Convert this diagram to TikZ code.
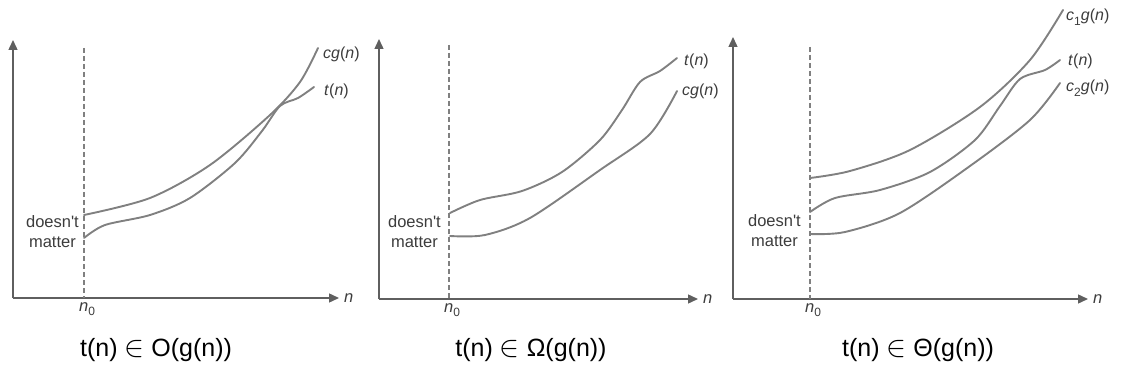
\documentclass[tikz,border=0pt]{standalone}
\usepackage{fontspec}
\usepackage{graphicx}
\setmainfont{Liberation Sans}
\newfontfamily\plainfont{Liberation Sans}
\usetikzlibrary{arrows.meta}
\definecolor{curvegray}{RGB}{128,128,128}
\definecolor{axisgray}{RGB}{95,95,95}
\definecolor{labelgray}{RGB}{60,60,60}
\newcommand{\lsub}[1]{\raisebox{-0.28em}{\fontsize{12}{12}\selectfont #1}}
\newcommand{\elem}{\raisebox{-0.02em}{\scalebox{1.2}{$\in$}}}
\begin{document}
\begin{tikzpicture}[x=1pt,y=-1pt,
  axis/.style={draw=axisgray,line width=1.4,-{Triangle[length=10,width=9]}},
  nline/.style={draw=curvegray,line width=1.3,dash pattern=on 5 off 3},
  fcurve/.style={draw=curvegray,line width=1.9,line cap=round},
  flabel/.style={anchor=west,inner sep=0pt,text=labelgray,font=\fontsize{16}{18}\selectfont},
  axlabel/.style={inner sep=0pt,text=labelgray,font=\fontsize{16.5}{18}\selectfont},
  dmlabel/.style={anchor=east,align=center,inner sep=0pt,text=labelgray,font=\plainfont\fontsize{16.5}{20}\selectfont},
  caption/.style={inner sep=0pt,text=black,font=\fontsize{25}{30}\selectfont}]
\useasboundingbox (0,0) rectangle (1121,374);
% ---------- panel 1 ----------
\coordinate (o1) at (13,298);
\coordinate (y1) at (13,40);
\coordinate (x1) at (339,298);
\coordinate (d1t) at (84,48);
\coordinate (d1b) at (84,298);
\draw[axis] (o1) -- (y1);
\draw[axis] (o1) -- (x1);
\draw[nline] (d1t) -- (d1b);
\node[axlabel,anchor=west] (n1) at (344,298) {\textit{n}};
\node[axlabel,anchor=north] (n01) at (87,302) {\textit{n}\lsub{0}};
\node[dmlabel] (dm1) at (79,232) {doesn't\\matter};
\draw[fcurve] plot[smooth] coordinates {(84,215) (150,198) (210,165) (270,115) (300,82) (318,48)};
\draw[fcurve] plot[smooth] coordinates {(84,238) (105,225) (150,215) (190,198) (235,163) (262,131) (280,106) (298,98) (314,87)};
\node[flabel] (cg1) at (323,54) {\textit{cg}(\textit{n})};
\node[flabel] (t1) at (324,91) {\textit{t}(\textit{n})};
\node[caption] (cap1) at (156,350) {t(n) \elem{} O(g(n))};
% ---------- panel 2 ----------
\coordinate (o2) at (379,299);
\coordinate (y2) at (379,39);
\coordinate (x2) at (698,299);
\coordinate (d2t) at (449,45);
\coordinate (d2b) at (449,299);
\draw[axis] (o2) -- (y2);
\draw[axis] (o2) -- (x2);
\draw[nline] (d2t) -- (d2b);
\node[axlabel,anchor=west] (n2) at (703,299) {\textit{n}};
\node[axlabel,anchor=north] (n02) at (452,303) {\textit{n}\lsub{0}};
\node[dmlabel] (dm2) at (441,232) {doesn't\\matter};
\draw[fcurve] plot[smooth] coordinates {(450,213) (480,200) (522,191) (562,172) (600,140) (622,110) (640,82) (660,71) (677,58)};
\draw[fcurve] plot[smooth] coordinates {(450,236) (485,235) (530,218) (600,170) (650,134) (677,91)};
\node[flabel] (t2) at (684,61) {\textit{t}(\textit{n})};
\node[flabel] (cg2) at (682,91) {\textit{cg}(\textit{n})};
\node[caption] (cap2) at (531,350) {t(n) \elem{} Ω(g(n))};
% ---------- panel 3 ----------
\coordinate (o3) at (733,299);
\coordinate (y3) at (733,37);
\coordinate (x3) at (1088,299);
\coordinate (d3t) at (810,47);
\coordinate (d3b) at (810,299);
\draw[axis] (o3) -- (y3);
\draw[axis] (o3) -- (x3);
\draw[nline] (d3t) -- (d3b);
\node[axlabel,anchor=west] (n3) at (1093,299) {\textit{n}};
\node[axlabel,anchor=north] (n03) at (813,303) {\textit{n}\lsub{0}};
\node[dmlabel] (dm3) at (801,231) {doesn't\\matter};
\draw[fcurve] plot[smooth] coordinates {(810,178) (850,171) (910,150) (980,107) (1030,60) (1063,10)};
\draw[fcurve] plot[smooth] coordinates {(810,212) (835,198) (880,190) (930,172) (975,140) (1000,106) (1020,79) (1045,70) (1060,60)};
\draw[fcurve] plot[smooth] coordinates {(810,234) (845,232) (900,213) (970,166) (1030,120) (1060,83)};
\node[flabel] (c1g) at (1066,17) {\textit{c}\lsub{1}\textit{g}(\textit{n})};
\node[flabel] (t3) at (1068,61) {\textit{t}(\textit{n})};
\node[flabel] (c2g) at (1066,88) {\textit{c}\lsub{2}\textit{g}(\textit{n})};
\node[caption] (cap3) at (918,350) {t(n) \elem{} Θ(g(n))};
\end{tikzpicture}
\end{document}
